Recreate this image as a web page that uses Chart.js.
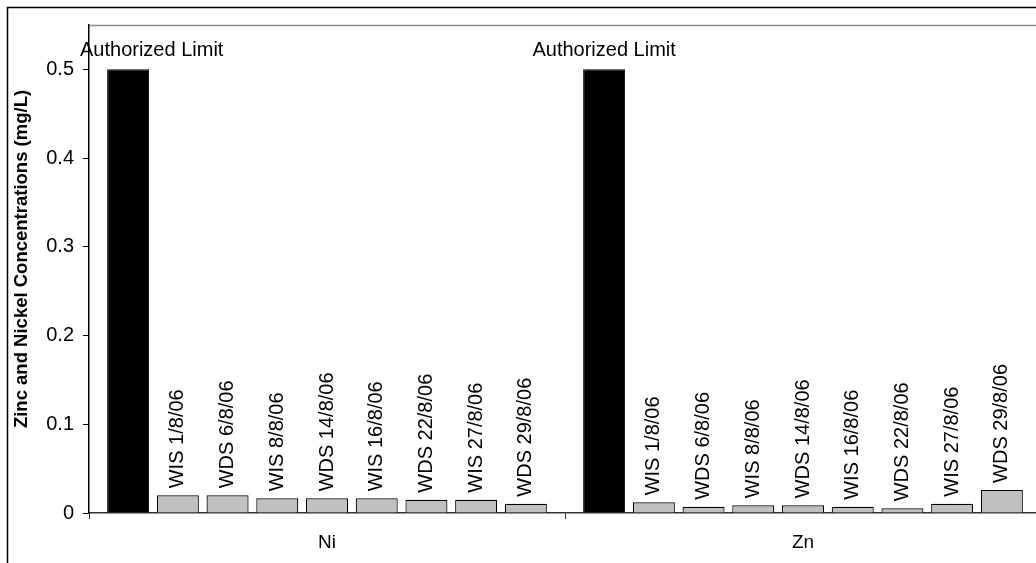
<!DOCTYPE html>
<html>
<head>
<meta charset="utf-8">
<script src="https://cdn.jsdelivr.net/npm/chart.js@4.4.0/dist/chart.umd.min.js"></script>
<style>
  html, body { margin: 0; padding: 0; background: #fff; overflow: hidden; }
  #chart { display: block; }
</style>
</head>
<body>
<canvas id="chart" width="1060" height="563"></canvas>
<script>
// metals on the x axis, one bar per sample inside each group
const metals = ["Ni", "Zn"];
const limitLabel = "Authorized Limit";
const limitValues = [0.5, 0.5];
const samples = ["WIS 1/8/06", "WDS 6/8/06", "WIS 8/8/06", "WDS 14/8/06",
                 "WIS 16/8/06", "WDS 22/8/06", "WIS 27/8/06", "WDS 29/8/06"];
const niValues = [0.020, 0.020, 0.0165, 0.0165, 0.0165, 0.015, 0.015, 0.0105];
const znValues = [0.012, 0.007, 0.0087, 0.0087, 0.007, 0.0053, 0.0105, 0.026];
const yTicks = [0, 0.1, 0.2, 0.3, 0.4, 0.5];
const yTitle = "Zinc and Nickel Concentrations (mg/L)";

const FONT = "'Liberation Sans', Arial, sans-serif";
Chart.defaults.font.family = FONT;
Chart.defaults.color = "#000";

const datasets = [{
    label: limitLabel,
    data: limitValues,
    backgroundColor: "#000",
    borderColor: "#000",
    borderWidth: 1
}].concat(samples.map((s, i) => ({
    label: s,
    data: [niValues[i], znValues[i]],
    backgroundColor: "#c0c0c0",
    borderColor: "#000",
    borderWidth: 1.2
})));

// outer frame, grey top line of the plot area, y title
const framePlugin = {
    id: "frame",
    beforeDraw(chart) {
        const { ctx, chartArea: a, width, height } = chart;
        ctx.save();
        ctx.fillStyle = "#fff";
        ctx.fillRect(0, 0, width, height);
        ctx.strokeStyle = "#000";
        ctx.lineWidth = 1.5;
        ctx.beginPath();
        ctx.moveTo(7.5, height);
        ctx.lineTo(7.5, 7.5);
        ctx.lineTo(width, 7.5);
        ctx.stroke();
        ctx.strokeStyle = "#8c8c8c";
        ctx.beginPath();
        ctx.moveTo(a.left, a.top + 0.5);
        ctx.lineTo(a.right, a.top + 0.5);
        ctx.stroke();

        // axis title sits a bit above the middle, like the original
        ctx.fillStyle = "#000";
        ctx.font = "bold 18.5px " + FONT;
        ctx.translate(22, (a.top + a.bottom) / 2 - 10);
        ctx.rotate(-Math.PI / 2);
        ctx.textAlign = "center";
        ctx.textBaseline = "middle";
        ctx.fillText(yTitle, 0, 0);
        ctx.restore();
    }
};

// bar labels: limit label flat, sample labels rotated
const labelPlugin = {
    id: "barLabels",
    afterDatasetsDraw(chart) {
        const { ctx, chartArea: a } = chart;
        ctx.save();
        ctx.fillStyle = "#000";
        chart.data.datasets.forEach((ds, di) => {
            const meta = chart.getDatasetMeta(di);
            meta.data.forEach(bar => {
                if (di === 0) {
                    ctx.font = "20px " + FONT;
                    const w = ctx.measureText(ds.label).width;
                    const x = Math.max(bar.x - w / 2, a.left - 9);
                    ctx.textAlign = "left";
                    ctx.textBaseline = "alphabetic";
                    ctx.fillText(ds.label, x, bar.y - 13);
                } else {
                    ctx.font = "20px " + FONT;
                    ctx.save();
                    ctx.translate(bar.x, bar.y - 7);
                    ctx.rotate(-Math.PI / 2);
                    ctx.textAlign = "left";
                    ctx.textBaseline = "middle";
                    ctx.fillText(ds.label, 0, 0);
                    ctx.restore();
                }
            });
        });
        ctx.restore();
    }
};

new Chart(document.getElementById("chart"), {
    type: "bar",
    data: { labels: metals, datasets },
    options: {
        responsive: false,
        animation: false,
        layout: { padding: { top: 25, right: 19, left: 0, bottom: 0 } },
        datasets: { bar: { categoryPercentage: 0.94, barPercentage: 0.845 } },
        plugins: { legend: { display: false }, tooltip: { enabled: false } },
        scales: {
            x: {
                afterFit: s => { s.height = 50; },
                grid: { offset: true, drawOnChartArea: false, drawTicks: true, tickLength: 6, color: "#333" },
                border: { color: "#333", width: 1.5 },
                ticks: { font: { size: 19 }, padding: 12 }
            },
            y: {
                min: 0,
                max: 0.55,
                afterFit: s => { s.width = 89; },
                afterBuildTicks: s => { s.ticks = yTicks.map(v => ({ value: v })); },
                grid: { drawOnChartArea: false, drawTicks: true, tickLength: 6, color: "#000" },
                border: { color: "#000", width: 1.5 },
                ticks: {
                    font: { size: 20 },
                    padding: 9,
                    callback: v => v === 0 ? "0" : v.toFixed(1)
                }
            }
        }
    },
    plugins: [framePlugin, labelPlugin]
});
</script>
</body>
</html>
